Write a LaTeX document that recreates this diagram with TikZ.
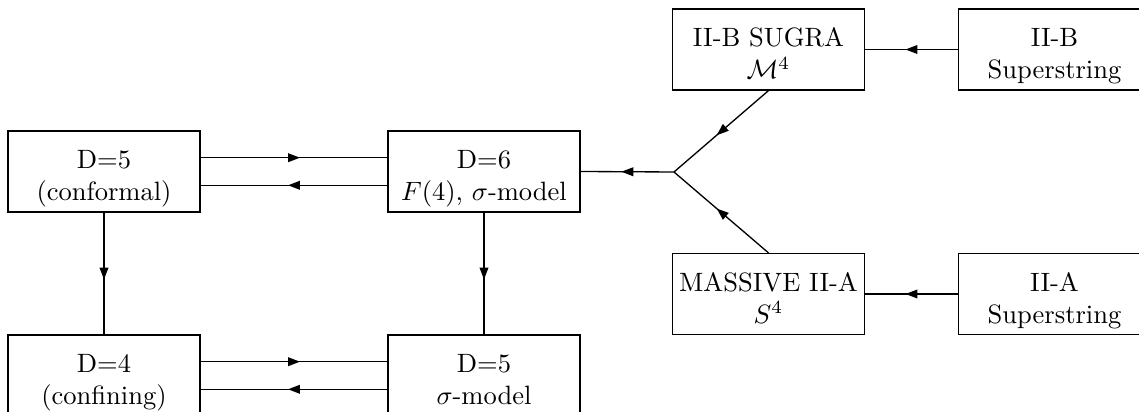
\documentclass[tikz,border=0pt]{standalone}
\usetikzlibrary{arrows.meta,decorations.markings}
\begin{document}
\begin{tikzpicture}[x=0.377pt,y=-0.377pt,
  box/.style={draw,line width=0.5pt,minimum width=72.4pt,minimum height=30.5pt,inner sep=0pt},
  txt/.style={anchor=north,inner sep=0pt,align=center},
  link/.style={line width=0.5pt},
  midarrow/.style={link,postaction={decorate},decoration={markings,mark=at position 0.5 with {\arrow[xshift=2.25pt]{Triangle[length=4.5pt,width=3.3pt]}}}}]
\useasboundingbox (0,0) rectangle (1139,412);
\clip (0,0) rectangle (1139,412);
\node[box] (A) at (104,171.5) {};
\node[box] (B) at (484,171.5) {};
\node[box] (C) at (768.5,49.5) {};
\node[box] (D) at (1054.5,49.5) {};
\node[box] (E) at (768.5,294) {};
\node[box] (F) at (1054.5,294) {};
\node[box] (G) at (104,375.5) {};
\node[box] (H) at (484,375.5) {};
\node[txt] (At) at ([yshift=-5.9pt]A.north) {\strut D=5\\(conformal)};
\node[txt] (Bt) at ([yshift=-5.9pt]B.north) {\strut D=6\\$F(4)$, $\sigma$-model};
\node[txt] (Ct) at ([yshift=-5.9pt]C.north) {\strut II-B SUGRA\\$\mathcal{M}^4$};
\node[txt] (Dt) at ([yshift=-5.9pt]D.north) {\strut II-B\\Superstring};
\node[txt] (Et) at ([yshift=-5.9pt]E.north) {\strut MASSIVE II-A\\$S^4$};
\node[txt] (Ft) at ([yshift=-5.9pt]F.north) {\strut II-A\\Superstring};
\node[txt] (Gt) at ([yshift=-5.9pt]G.north) {\strut D=4\\(confining)};
\node[txt] (Ht) at ([yshift=-5.9pt]H.north) {\strut D=5\\$\sigma$-model};
\coordinate (J) at (674,172);
\draw[midarrow] ([yshift=5.2pt]A.east) -- ([yshift=5.2pt]B.west);
\draw[midarrow] ([yshift=-5.2pt]B.west) -- ([yshift=-5.2pt]A.east);
\draw[midarrow] ([yshift=5.2pt]G.east) -- ([yshift=5.2pt]H.west);
\draw[midarrow] ([yshift=-5.2pt]H.west) -- ([yshift=-5.2pt]G.east);
\draw[midarrow] (A.south) -- (G.north);
\draw[midarrow] (B.south) -- (H.north);
\draw[midarrow] (J) -- (B.east);
\draw[midarrow] (C.south) -- (J);
\draw[midarrow] (E.north) -- (J);
\draw[midarrow] (D.west) -- (C.east);
\draw[midarrow] (F.west) -- (E.east);
\end{tikzpicture}
\end{document}
